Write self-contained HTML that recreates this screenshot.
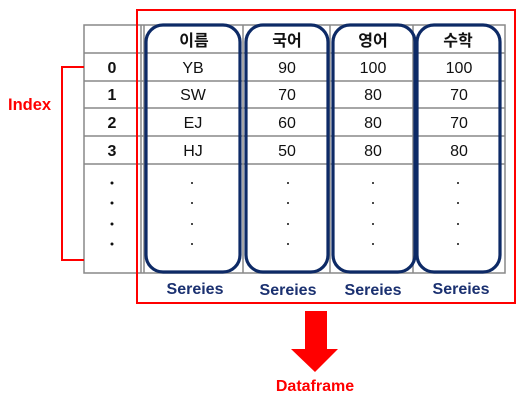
<!DOCTYPE html>
<html><head><meta charset="utf-8"><style>
body{margin:0;background:#fff;width:529px;height:402px;overflow:hidden}
</style></head><body>
<svg width="529" height="402" xmlns="http://www.w3.org/2000/svg" font-family="'Liberation Sans','Noto Sans CJK KR',sans-serif">
<g stroke="#888" stroke-width="1.5" fill="none">
<rect x="84" y="25" width="421" height="248"/>
<line x1="84" y1="53" x2="505" y2="53"/>
<line x1="84" y1="81" x2="505" y2="81"/>
<line x1="84" y1="108" x2="505" y2="108"/>
<line x1="84" y1="136" x2="505" y2="136"/>
<line x1="84" y1="164" x2="505" y2="164"/>
<line x1="141" y1="25" x2="141" y2="273"/>
<line x1="144" y1="25" x2="144" y2="273"/>
<line x1="243" y1="25" x2="243" y2="273"/>
<line x1="330" y1="25" x2="330" y2="273"/>
<line x1="413" y1="25" x2="413" y2="273"/>
</g>
<rect x="137" y="10" width="378" height="293" fill="none" stroke="#f00" stroke-width="2"/>
<polyline points="84,67 62,67 62,260 84,260" fill="none" stroke="#f00" stroke-width="2"/>
<g fill="none" stroke="#0d2a66" stroke-width="3.2">
<rect x="146" y="25" width="94" height="247" rx="17"/>
<rect x="246" y="25" width="82" height="247" rx="17"/>
<rect x="333" y="25" width="82" height="247" rx="17"/>
<rect x="417" y="25" width="83" height="247" rx="17"/>
</g>
<g font-size="16" text-anchor="middle" fill="#111">
<g font-weight="bold"><text x="194" y="46">이름</text><text x="287" y="46">국어</text><text x="373" y="46">영어</text><text x="458" y="46">수학</text>
<text x="112" y="73">0</text><text x="112" y="100">1</text><text x="112" y="128">2</text><text x="112" y="156">3</text></g>
<text x="193" y="73">YB</text><text x="287" y="73">90</text><text x="373" y="73">100</text><text x="459" y="73">100</text>
<text x="193" y="100">SW</text><text x="287" y="100">70</text><text x="373" y="100">80</text><text x="459" y="100">70</text>
<text x="193" y="128">EJ</text><text x="287" y="128">60</text><text x="373" y="128">80</text><text x="459" y="128">70</text>
<text x="193" y="156">HJ</text><text x="287" y="156">50</text><text x="373" y="156">80</text><text x="459" y="156">80</text>
</g>
<g fill="#111">
<circle cx="112" cy="183" r="1.5"/><circle cx="112" cy="203" r="1.5"/><circle cx="112" cy="224" r="1.5"/><circle cx="112" cy="244" r="1.5"/>
<g id="d"><circle cx="192" cy="183" r="1"/><circle cx="192" cy="203" r="1"/><circle cx="192" cy="224" r="1"/><circle cx="192" cy="244" r="1"/></g>
<use href="#d" x="96"/><use href="#d" x="181"/><use href="#d" x="266"/>
</g>
<g font-size="16" font-weight="bold" fill="#1a3070" text-anchor="middle">
<text x="195" y="294">Sereies</text><text x="288" y="295">Sereies</text><text x="373" y="295">Sereies</text><text x="461" y="294">Sereies</text>
</g>
<text x="8" y="110" font-size="16.5" font-weight="bold" fill="#f00">Index</text>
<polygon points="305,311 327,311 327,349 338,349 315,372 291,349 305,349" fill="#f00"/>
<text x="315" y="391" font-size="16" font-weight="bold" fill="#f00" text-anchor="middle">Dataframe</text>
</svg>
</body></html>
